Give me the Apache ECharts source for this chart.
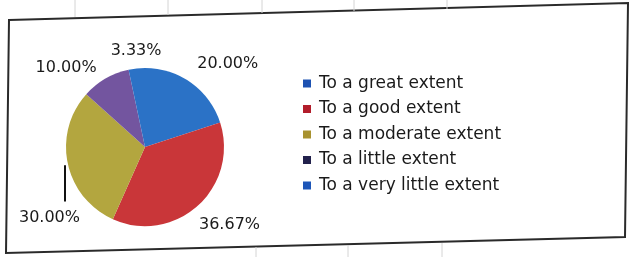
<!DOCTYPE html>
<html>
<head>
<meta charset="utf-8">
<script src="https://cdn.jsdelivr.net/npm/echarts@6/dist/echarts.min.js"></script>
<style>html,body{margin:0;padding:0;background:#fff;}#c{width:630px;height:257px;}</style>
</head>
<body>
<div id="c"></div>
<script>
var categories = ['To a great extent', 'To a good extent', 'To a moderate extent', 'To a little extent', 'To a very little extent'];
var values = [20.00, 36.67, 30.00, 10.00, 3.33];
var sliceColors = ['#2b72c6', '#c93639', '#b3a63f', '#73559f', '#2b72c6'];
var legendColors = ['#1d52b2', '#b21d2b', '#a8922f', '#22214c', '#1d56b8'];

// pie layout
var CX = 145, CY = 147, R = 79;
// label placement (Excel "best fit"): direction in degrees clockwise from 12 o'clock, distance from pie centre
var labelPlacement = [
  {angle: 45, dist: 117},
  {angle: 132.7, dist: 115},
  {angle: 233.4, dist: 119},
  {angle: 315.2, dist: 112},
  {angle: 354.7, dist: 97}
];

var chart = echarts.init(document.getElementById('c'), null, {renderer: 'canvas'});
var lx = CX - R - 1;
chart.setOption({
  animation: false,
  backgroundColor: '#ffffff',
  legend: {
    orient: 'vertical',
    left: 298,
    top: 70,
    itemWidth: 8,
    itemHeight: 8,
    itemGap: 8.5,
    itemStyle: {borderWidth: 0},
    icon: 'rect',
    textStyle: {fontFamily: 'DejaVu Sans', fontSize: 17, color: '#1a1a1a', padding: [0, 0, 0, 3]},
    data: categories.map(function (c, i) { return {name: c, itemStyle: {color: legendColors[i]}}; })
  },
  graphic: [
    {type: 'polygon', shape: {points: [[9, 20], [628, 3], [625, 237], [6, 253]]}, style: {fill: 'none', stroke: '#2a2a2a', lineWidth: 2}, z: -1},
    {type: 'line', shape: {x1: 75, y1: 0, x2: 75, y2: 17}, style: {stroke: '#d4d4d4', lineWidth: 1}},
    {type: 'line', shape: {x1: 168, y1: 0, x2: 168, y2: 15}, style: {stroke: '#d4d4d4', lineWidth: 1}},
    {type: 'line', shape: {x1: 262, y1: 0, x2: 262, y2: 13}, style: {stroke: '#d4d4d4', lineWidth: 1}},
    {type: 'line', shape: {x1: 354, y1: 0, x2: 354, y2: 11}, style: {stroke: '#d4d4d4', lineWidth: 1}},
    {type: 'line', shape: {x1: 447, y1: 0, x2: 447, y2: 9}, style: {stroke: '#d4d4d4', lineWidth: 1}},
    {type: 'line', shape: {x1: 256, y1: 247, x2: 256, y2: 257}, style: {stroke: '#d4d4d4', lineWidth: 1}},
    {type: 'line', shape: {x1: 348, y1: 245, x2: 348, y2: 257}, style: {stroke: '#d4d4d4', lineWidth: 1}},
    {type: 'line', shape: {x1: 442, y1: 243, x2: 442, y2: 257}, style: {stroke: '#d4d4d4', lineWidth: 1}},
    // leader line of the moderate-extent label
    {type: 'line', shape: {x1: lx, y1: CY + R * 0.23, x2: lx, y2: CY + R * 0.69}, style: {stroke: '#111', lineWidth: 2}}
  ],
  series: [{
    type: 'pie',
    center: [CX, CY],
    radius: R,
    startAngle: 90,
    clockwise: true,
    avoidLabelOverlap: false,
    itemStyle: {borderWidth: 0},
    label: {
      show: true,
      position: 'outside',
      fontFamily: 'DejaVu Sans',
      fontSize: 16,
      color: '#1a1a1a',
      formatter: function (p) { return p.value.toFixed(2) + '%'; }
    },
    labelLine: {show: false},
    labelLayout: function (p) {
      var lp = labelPlacement[p.dataIndex];
      var a = lp.angle * Math.PI / 180;
      return {x: CX + lp.dist * Math.sin(a), y: CY - lp.dist * Math.cos(a), align: 'center', verticalAlign: 'middle'};
    },
    data: categories.map(function (c, i) {
      return {name: c, value: values[i], itemStyle: {color: sliceColors[i]}};
    })
  }]
});
</script>
</body>
</html>
